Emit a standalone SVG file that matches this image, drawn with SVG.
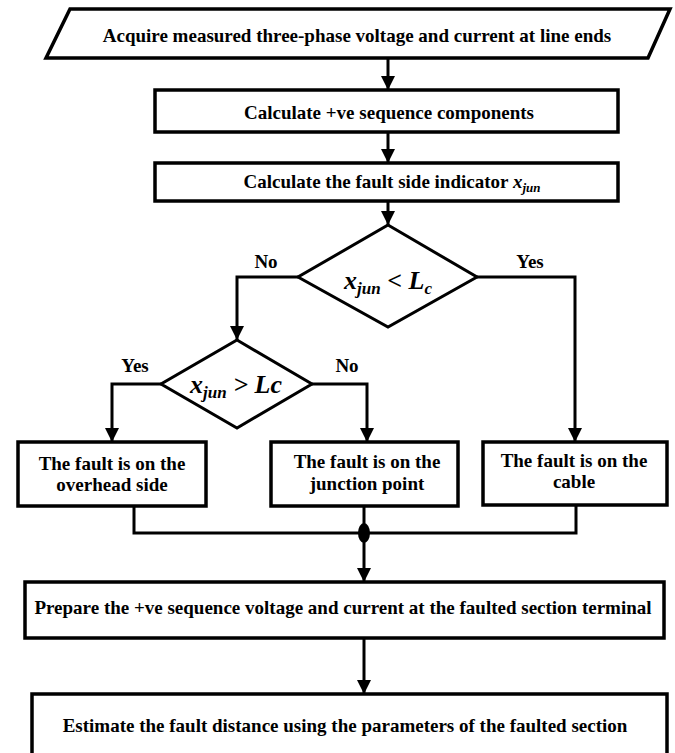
<svg xmlns="http://www.w3.org/2000/svg" width="675" height="753" viewBox="0 0 675 753">
<defs>
<marker id="ah" markerUnits="userSpaceOnUse" markerWidth="14" markerHeight="16" refX="14" refY="7" orient="auto">
<path d="M0,0 L14,7 L0,14 Z" fill="#000"/>
</marker>
<style>
.box{fill:#fff;stroke:#000;stroke-width:3.5;stroke-linejoin:miter}
.dia{fill:#fff;stroke:#000;stroke-width:3}
.ln{fill:none;stroke:#000;stroke-width:3}
.t{font-weight:bold;font-size:19px;fill:#000;text-anchor:middle}
.m{font-weight:bold;font-style:italic;font-size:26px;fill:#000;text-anchor:middle}
</style>
</defs>
<rect width="675" height="753" fill="#fff"/>
<g font-family="'Liberation Serif', 'Times New Roman', 'DejaVu Serif', serif">
<g id="connectors">
<path class="ln" d="M388,58 V90" marker-end="url(#ah)"/>
<path class="ln" d="M388,132 V163" marker-end="url(#ah)"/>
<path class="ln" d="M388,201 V225" marker-end="url(#ah)"/>
<path class="ln" d="M298,277 H237 V340" marker-end="url(#ah)"/>
<path class="ln" d="M477,277 H575 V442" marker-end="url(#ah)"/>
<path class="ln" d="M161,384 H112 V442" marker-end="url(#ah)"/>
<path class="ln" d="M312,384 H367 V442" marker-end="url(#ah)"/>
<path class="ln" d="M134,506 V533 H576 V505"/>
<path class="ln" d="M364,506 V582" marker-end="url(#ah)"/>
<ellipse cx="364" cy="533" rx="6" ry="10" fill="#000"/>
<path class="ln" d="M364,638 V694" marker-end="url(#ah)"/>
<text class="t" x="266" y="268">No</text>
<text class="t" x="530" y="268">Yes</text>
<text class="t" x="135" y="372">Yes</text>
<text class="t" x="347" y="372">No</text>
</g>
<g id="n1">
<polygon class="box" points="70,9 670,9 648,58 46,58"/>
<text class="t" x="357" y="42">Acquire measured three-phase voltage and current at line ends</text>
</g>
<g id="n2">
<rect class="box" x="155" y="90" width="463" height="42"/>
<text class="t" x="389" y="119">Calculate +ve sequence components</text>
</g>
<g id="n3">
<rect class="box" x="155" y="163" width="463" height="38"/>
<text class="t" x="392" y="188">Calculate the fault side indicator <tspan font-style="italic">x</tspan><tspan font-style="italic" font-size="13" dy="4">jun</tspan></text>
</g>
<g id="n4">
<polygon class="dia" points="388,225 477,277 388,327 298,277"/>
<text class="m" x="388" y="289">x<tspan font-size="17" dy="5">jun</tspan><tspan dy="-5"> &lt; L</tspan><tspan font-size="17" dy="5">c</tspan></text>
</g>
<g id="n5">
<polygon class="dia" points="237,340 312,384 237,428 161,384"/>
<text class="m" x="236" y="393">x<tspan font-size="17" dy="5">jun</tspan><tspan dy="-5"> &gt; Lc</tspan></text>
</g>
<g id="n6">
<rect class="box" x="18" y="442" width="188" height="64"/>
<text class="t" x="112" y="470">The fault is on the</text>
<text class="t" x="112" y="491">overhead side</text>
</g>
<g id="n7">
<rect class="box" x="271" y="442" width="187" height="64"/>
<text class="t" x="367" y="468">The fault is on the</text>
<text class="t" x="367" y="490">junction point</text>
</g>
<g id="n8">
<rect class="box" x="483" y="442" width="184" height="63"/>
<text class="t" x="574" y="467">The fault is on the</text>
<text class="t" x="574" y="488">cable</text>
</g>
<g id="n9">
<rect class="box" x="25" y="582" width="639" height="56"/>
<text class="t" x="343" y="614">Prepare the +ve sequence voltage and current at the faulted section terminal</text>
</g>
<g id="n10">
<rect class="box" x="32" y="694" width="635" height="70"/>
<text class="t" x="345" y="732">Estimate the fault distance using the parameters of the faulted section</text>
</g>
</g>
</svg>
